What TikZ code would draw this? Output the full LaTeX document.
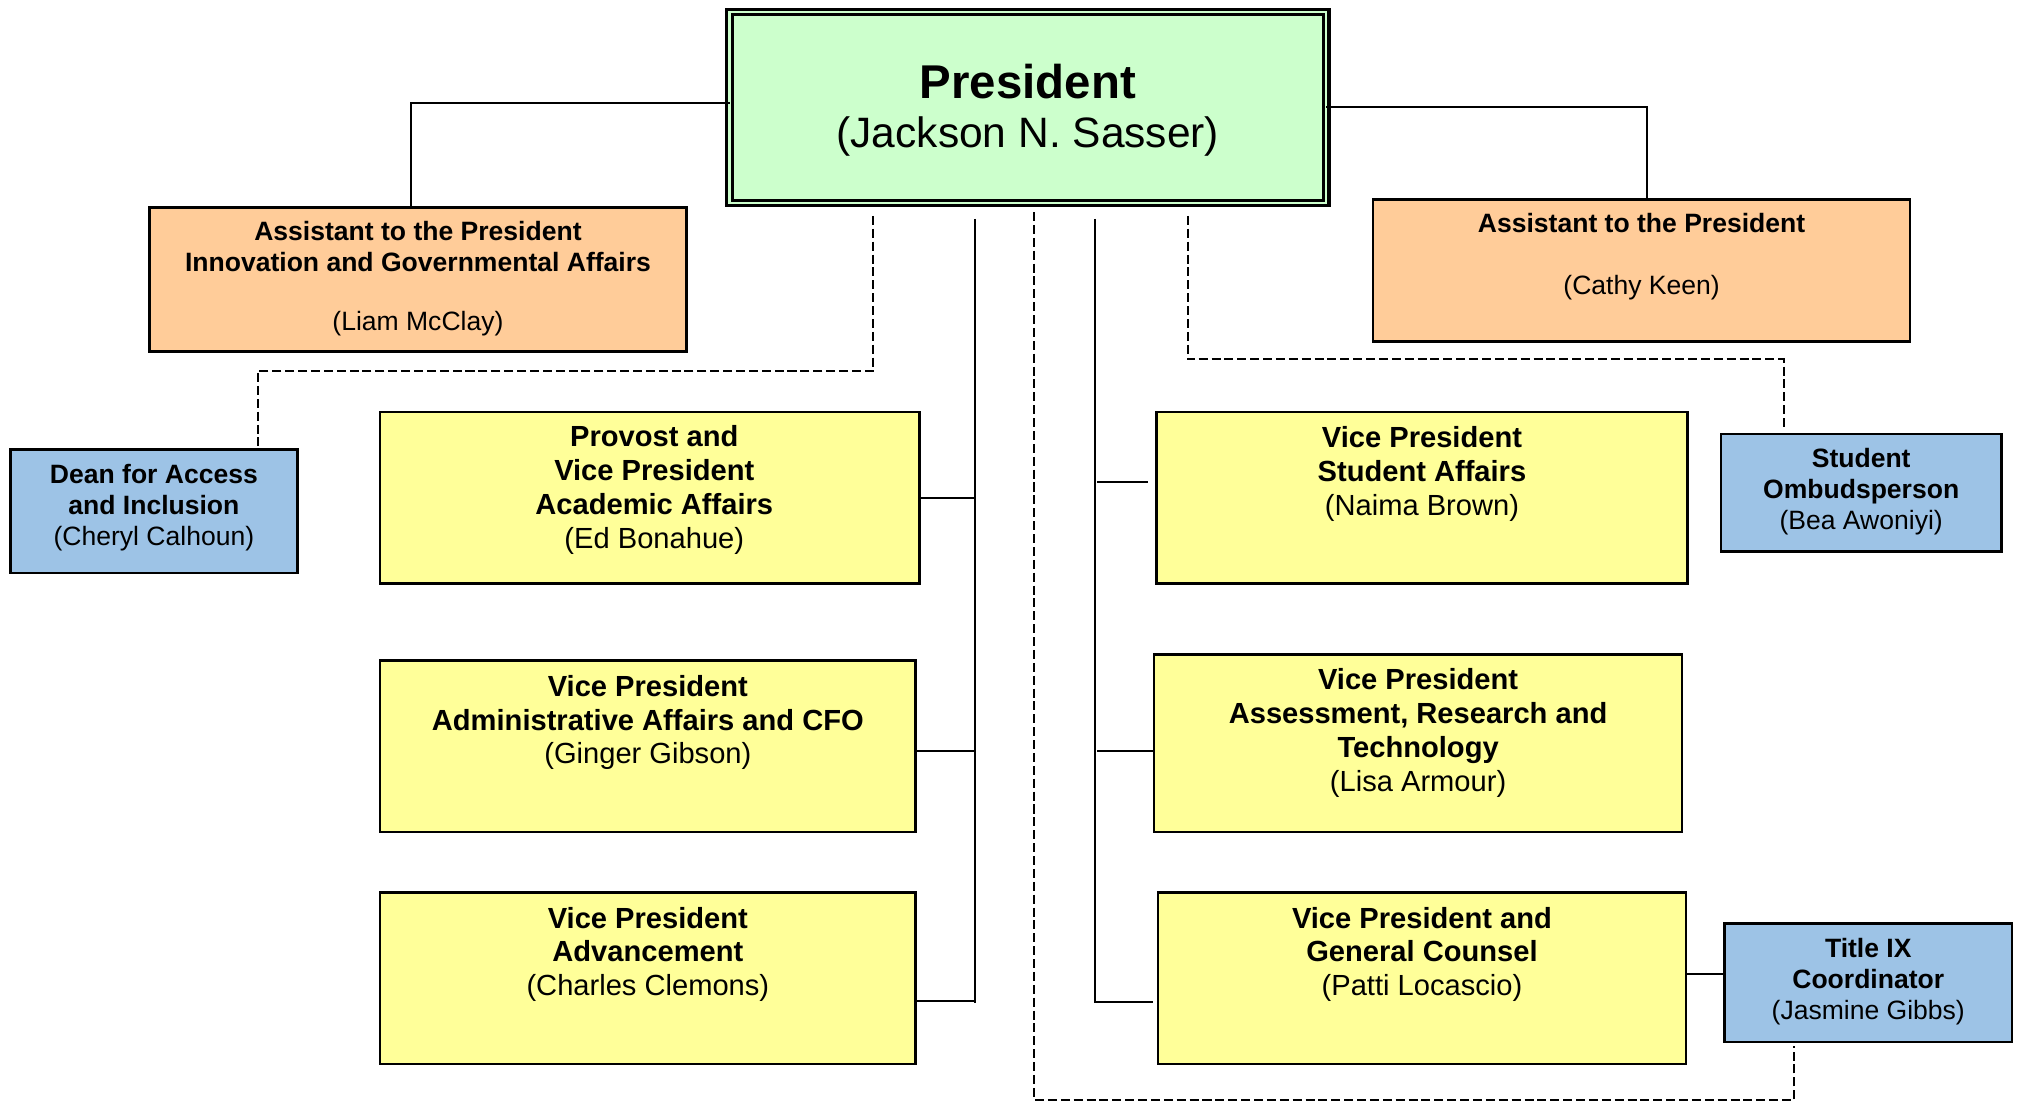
\documentclass[tikz,border=0pt]{standalone}
\usepackage{fontspec}
\setmainfont{Liberation Sans}
\definecolor{presgreen}{HTML}{CCFFCC}
\definecolor{peach}{HTML}{FFCC99}
\definecolor{vpyellow}{HTML}{FFFF99}
\definecolor{lblue}{HTML}{9DC3E6}
\begin{document}
\begin{tikzpicture}[x=0.5pt,y=-0.5pt,
 boxbase/.style={draw=black, line width=1pt, inner sep=0pt, outer sep=0pt},
 presbox/.style={boxbase, fill=presgreen, double=presgreen, line width=1.2pt, double distance=1pt},
 peachbox/.style={boxbase, fill=peach},
 yellowbox/.style={boxbase, fill=vpyellow},
 bluebox/.style={boxbase, fill=lblue},
 smalltext/.style={font=\fontsize{10.3pt}{12pt}\selectfont, align=center, inner sep=0pt},
 bigtext/.style={font=\fontsize{11.3pt}{13.1pt}\selectfont, align=center, inner sep=0pt},
 solidlink/.style={draw=black, line width=0.75pt},
 dashlink/.style={draw=black, line width=0.8pt, dash pattern=on 3.5pt off 1.5pt},
]
\useasboundingbox (0,0) rectangle (1566,855);

% boxes
\node[presbox, minimum width=231.6pt, minimum height=74.1pt] (pres) at (798,83.5) {};
\node[peachbox, minimum width=208.5pt, minimum height=56pt] (ail) at (324.5,217) {};
\node[peachbox, minimum width=208.5pt, minimum height=55pt] (air) at (1274.5,210) {};
\node[bluebox, minimum width=111.5pt, minimum height=48pt] (dean) at (119.5,397) {};
\node[bluebox, minimum width=109pt, minimum height=45.5pt] (omb) at (1445,382.5) {};
\node[yellowbox, minimum width=209.5pt, minimum height=66.5pt] (prov) at (504.5,386.5) {};
\node[yellowbox, minimum width=208pt, minimum height=66.5pt] (adm) at (503,579.5) {};
\node[yellowbox, minimum width=208pt, minimum height=66.5pt] (adv) at (503,759.5) {};
\node[yellowbox, minimum width=206pt, minimum height=66.5pt] (sa) at (1104,386.5) {};
\node[yellowbox, minimum width=205pt, minimum height=69pt] (as) at (1101,577) {};
\node[yellowbox, minimum width=205pt, minimum height=66.5pt] (gc) at (1104,759.5) {};
\node[bluebox, minimum width=111.5pt, minimum height=46pt] (tix) at (1450.5,763) {};

% texts
\node[inner sep=0pt, font=\fontsize{18.4pt}{22pt}\selectfont\bfseries] (presT) at (798,63) {President};
\node[inner sep=0pt, font=\fontsize{16.5pt}{20pt}\selectfont] (presN) at (798,106) {(Jackson N. Sasser)};
\node[smalltext] (ailT) at (324.5,216.5) {\textbf{Assistant to the President}\\\textbf{Innovation and Governmental Affairs}\\[11pt](Liam McClay)};
\node[smalltext] (airT) at (1274.5,199.5) {\textbf{Assistant to the President}\\[12pt](Cathy Keen)};
\node[smalltext] (deanT) at (119.5,394) {\textbf{Dean for Access}\\\textbf{and Inclusion}\\(Cheryl Calhoun)};
\node[smalltext] (ombT) at (1445,381.5) {\textbf{Student}\\\textbf{Ombudsperson}\\(Bea Awoniyi)};
\node[smalltext] (tixT) at (1450.5,762) {\textbf{Title IX}\\\textbf{Coordinator}\\(Jasmine Gibbs)};
\node[bigtext] (provT) at (508,380.5) {\textbf{Provost and}\\\textbf{Vice President}\\\textbf{Academic Affairs}\\(Ed Bonahue)};
\node[bigtext] (admT) at (503,561) {\textbf{Vice President}\\\textbf{Administrative Affairs and CFO}\\(Ginger Gibson)};
\node[bigtext] (advT) at (503,741) {\textbf{Vice President}\\\textbf{Advancement}\\(Charles Clemons)};
\node[bigtext] (saT) at (1104,368) {\textbf{Vice President}\\\textbf{Student Affairs}\\(Naima Brown)};
\node[bigtext] (asT) at (1101,569) {\textbf{Vice President}\\\textbf{Assessment, Research and}\\\textbf{Technology}\\(Lisa Armour)};
\node[bigtext] (gcT) at (1104,741) {\textbf{Vice President and}\\\textbf{General Counsel}\\(Patti Locascio)};

% solid connectors to assistants
\coordinate (ailk) at (319,80);
\draw[solidlink] (pres.west |- ailk) -- (ailk) -- (ailk |- ail.north);
\coordinate (airk) at (1279,83);
\draw[solidlink] (pres.east |- airk) -- (airk) -- (airk |- air.north);

% left trunk
\coordinate (LT) at (757,170);
\coordinate (LB) at (757,779);
\draw[solidlink] (LT) -- (LB);
\coordinate (provb) at (757,387);
\draw[solidlink] (prov.east |- provb) -- (provb);
\coordinate (admb) at (757,583);
\draw[solidlink] (adm.east |- admb) -- (admb);
\coordinate (advb) at (757,777);
\draw[solidlink] (adv.east |- advb) -- (advb);

% right trunk
\coordinate (RT) at (850,170);
\coordinate (RB) at (850,779);
\draw[solidlink] (RT) -- (RB);
\coordinate (sab) at (850,374);
\draw[solidlink, shorten <=1pt, shorten >=3.5pt] (sab) -- (sa.west |- sab);
\coordinate (asb) at (850,583);
\draw[solidlink, shorten <=1pt] (asb) -- (as.west |- asb);
\coordinate (gcb) at (850,778);
\draw[solidlink, shorten >=2pt] (gcb) -- (gc.west |- gcb);
\coordinate (tixb) at (1325,756);
\draw[solidlink] (gc.east |- tixb) -- (tix.west |- tixb);

% dashed connectors
\coordinate (d1b) at (678,288);
\coordinate (d1c) at (200,288);
\draw[dashlink, shorten <=5pt] (pres.south -| d1b) -- (d1b) -- (d1c) -- (d1c |- dean.north);
\coordinate (d2b) at (922,279);
\coordinate (d2c) at (1385,279);
\draw[dashlink, shorten <=5pt, shorten >=2pt] (pres.south -| d2b) -- (d2b) -- (d2c) -- (d2c |- omb.north);
\coordinate (d3b) at (803,854);
\coordinate (d3c) at (1393,854);
\draw[dashlink, shorten <=3.5pt, shorten >=1.5pt] (pres.south -| d3b) -- (d3b) -- (d3c) -- (d3c |- tix.south);
\end{tikzpicture}
\end{document}
